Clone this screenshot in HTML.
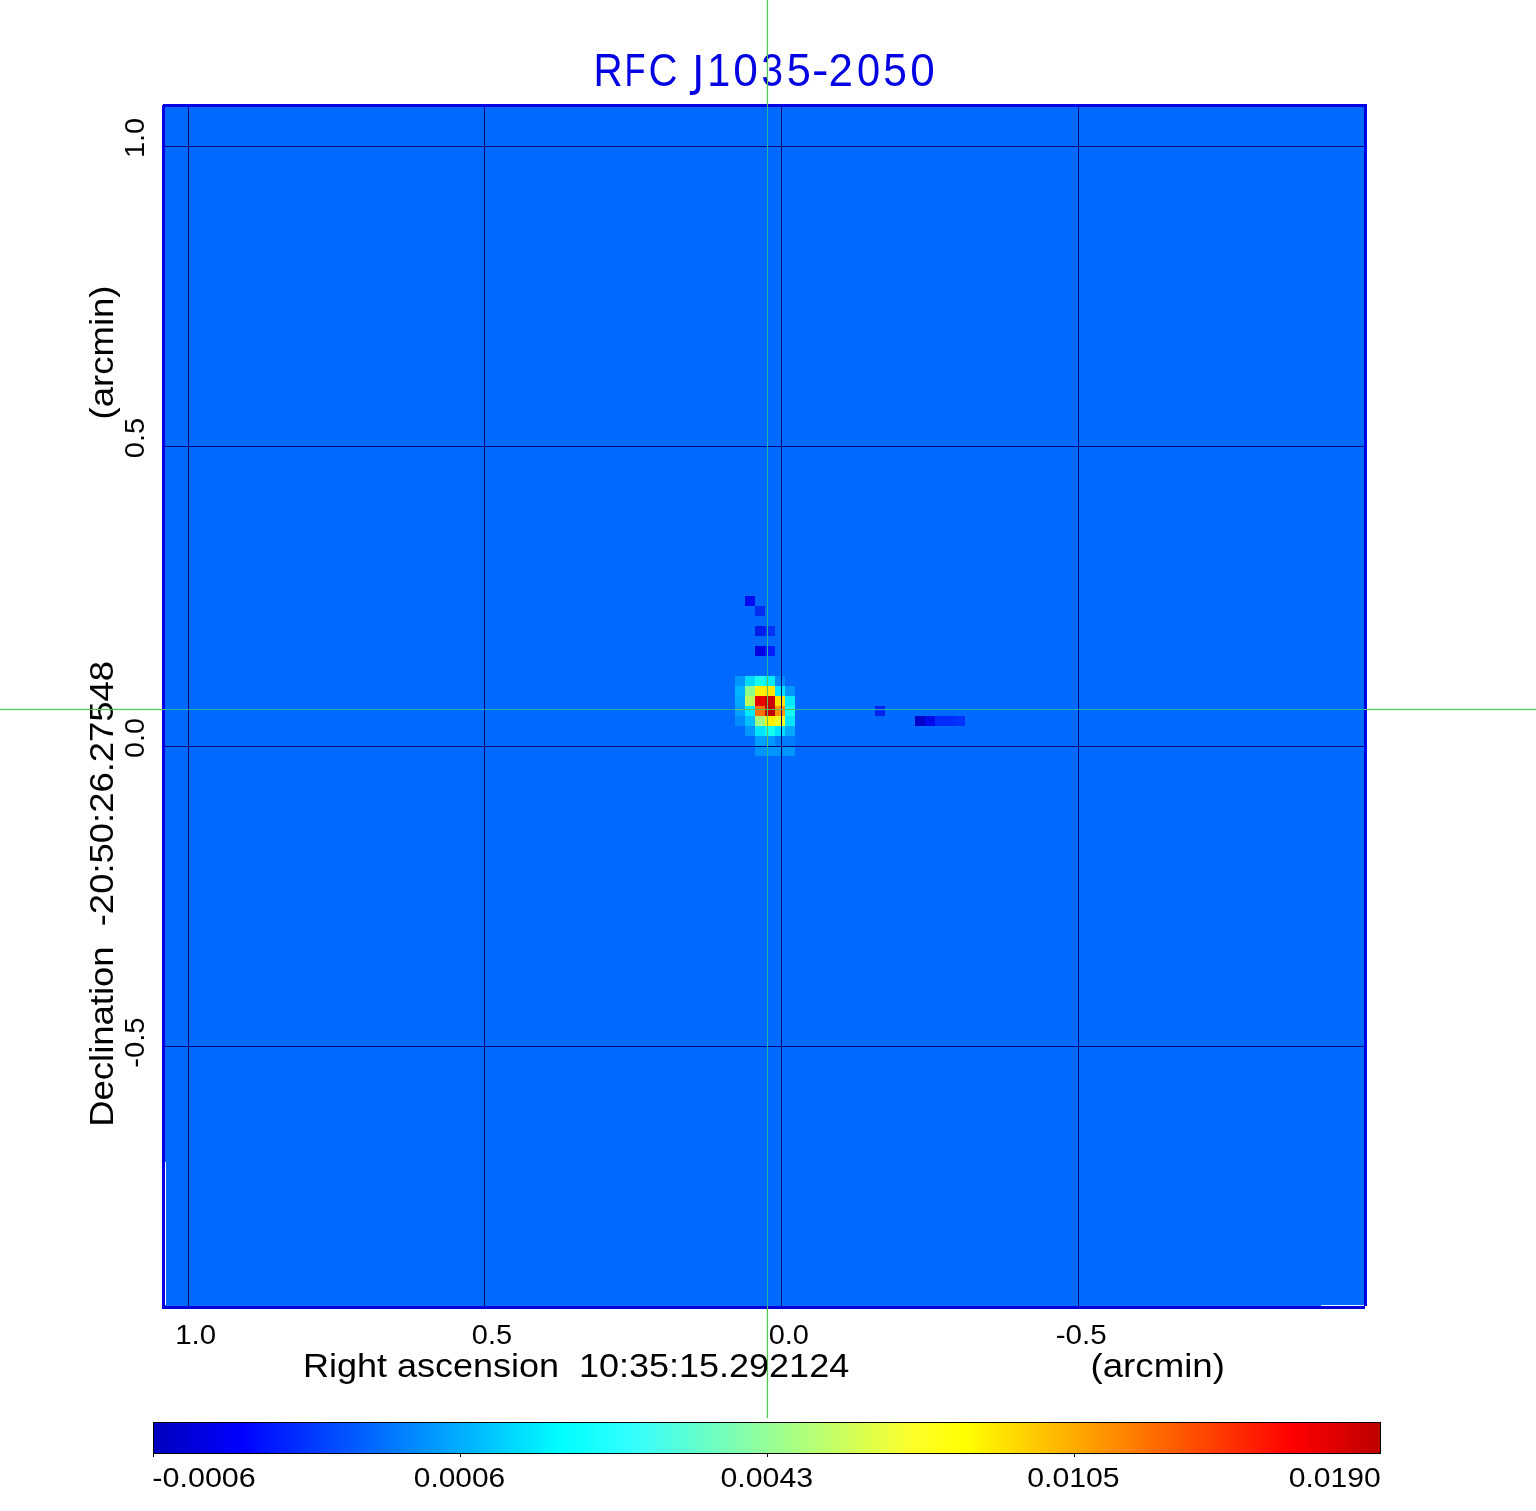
<!DOCTYPE html>
<html><head><meta charset="utf-8"><title>RFC J1035-2050</title>
<style>html,body{margin:0;padding:0;background:#fff;width:1536px;height:1511px;overflow:hidden}svg{display:block}</style>
</head><body><svg width="1536" height="1511" viewBox="0 0 1536 1511" font-family='"Liberation Sans", sans-serif' shape-rendering="crispEdges"><rect x="0" y="0" width="1536" height="1511" fill="#fff"/><rect x="165" y="107" width="1199" height="1199" fill="#0069ff"/><rect x="163" y="104" width="1204" height="3" fill="#0000e6"/><rect x="162" y="105" width="3" height="1204" fill="#0000e6"/><rect x="1364" y="104" width="3" height="1202" fill="#0000e6"/><rect x="162" y="1306" width="1203" height="3" fill="#0000d8"/><rect x="755" y="746" width="40" height="10" fill="#0094ff"/><rect x="735" y="676" width="10" height="10" fill="#0096ff"/><rect x="745" y="676" width="10" height="10" fill="#00dcff"/><rect x="755" y="676" width="10" height="10" fill="#14fff0"/><rect x="765" y="676" width="10" height="10" fill="#00ebff"/><rect x="775" y="676" width="10" height="10" fill="#008cff"/><rect x="735" y="686" width="10" height="10" fill="#00b4ff"/><rect x="745" y="686" width="10" height="10" fill="#8cff8c"/><rect x="755" y="686" width="10" height="10" fill="#fff000"/><rect x="765" y="686" width="10" height="10" fill="#ffe600"/><rect x="775" y="686" width="10" height="10" fill="#00e6ff"/><rect x="785" y="686" width="10" height="10" fill="#0096ff"/><rect x="735" y="696" width="10" height="10" fill="#00aaff"/><rect x="745" y="696" width="10" height="10" fill="#beff5a"/><rect x="755" y="696" width="10" height="10" fill="#eb0000"/><rect x="765" y="696" width="10" height="10" fill="#cd0000"/><rect x="775" y="696" width="10" height="10" fill="#ffe100"/><rect x="785" y="696" width="10" height="10" fill="#00ebff"/><rect x="735" y="706" width="10" height="10" fill="#00a0ff"/><rect x="745" y="706" width="10" height="10" fill="#00ebff"/><rect x="755" y="706" width="10" height="10" fill="#ff6e00"/><rect x="765" y="706" width="10" height="10" fill="#c30000"/><rect x="775" y="706" width="10" height="10" fill="#ff9600"/><rect x="785" y="706" width="10" height="10" fill="#14faf0"/><rect x="735" y="716" width="10" height="10" fill="#008cff"/><rect x="745" y="716" width="10" height="10" fill="#00beff"/><rect x="755" y="716" width="10" height="10" fill="#a0ff82"/><rect x="765" y="716" width="10" height="10" fill="#fff000"/><rect x="775" y="716" width="10" height="10" fill="#f0ff1e"/><rect x="785" y="716" width="10" height="10" fill="#00e6ff"/><rect x="745" y="726" width="10" height="10" fill="#0096ff"/><rect x="755" y="726" width="10" height="10" fill="#00e6ff"/><rect x="765" y="726" width="10" height="10" fill="#14fff0"/><rect x="775" y="726" width="10" height="10" fill="#00e1ff"/><rect x="785" y="726" width="10" height="10" fill="#00aaff"/><rect x="755" y="736" width="10" height="10" fill="#00a0ff"/><rect x="765" y="736" width="10" height="10" fill="#0096ff"/><rect x="775" y="736" width="10" height="10" fill="#007dff"/><rect x="785" y="736" width="10" height="10" fill="#007dff"/><rect x="755" y="646" width="10" height="10" fill="#0000e1"/><rect x="765" y="646" width="10" height="10" fill="#001eff"/><rect x="755" y="626" width="10" height="10" fill="#001eeb"/><rect x="765" y="626" width="10" height="10" fill="#0032f5"/><rect x="755" y="606" width="10" height="10" fill="#002df0"/><rect x="745" y="596" width="10" height="10" fill="#000af0"/><rect x="915" y="716" width="10" height="10" fill="#0000c8"/><rect x="925" y="716" width="10" height="10" fill="#000aeb"/><rect x="935" y="716" width="10" height="10" fill="#002dff"/><rect x="945" y="716" width="10" height="10" fill="#002dff"/><rect x="955" y="716" width="10" height="10" fill="#0032ff"/><rect x="875" y="706" width="10" height="10" fill="#0023f0"/><rect x="165" y="1162" width="1" height="143" fill="#fff"/><rect x="1321" y="1305" width="43" height="1" fill="#e8ffff"/><rect x="188" y="107" width="1" height="1199" fill="#00006e"/><rect x="484" y="107" width="1" height="1199" fill="#00006e"/><rect x="781" y="107" width="1" height="1199" fill="#00006e"/><rect x="1078" y="107" width="1" height="1199" fill="#00006e"/><rect x="165" y="146" width="1199" height="1" fill="#00006e"/><rect x="165" y="446" width="1199" height="1" fill="#00006e"/><rect x="165" y="746" width="1199" height="1" fill="#00006e"/><rect x="165" y="1046" width="1199" height="1" fill="#00006e"/><defs><linearGradient id="jet" x1="0" x2="1" y1="0" y2="0"><stop offset="0.000" stop-color="#0000be"/><stop offset="0.071" stop-color="#0000ff"/><stop offset="0.333" stop-color="#00ffff"/><stop offset="0.390" stop-color="#33ffff"/><stop offset="0.620" stop-color="#ffff28"/><stop offset="0.663" stop-color="#ffff00"/><stop offset="0.929" stop-color="#ff0000"/><stop offset="1.000" stop-color="#be0000"/></linearGradient></defs><rect x="153" y="1422" width="1228" height="32" fill="#000"/><rect x="154" y="1423" width="1226" height="30" fill="url(#jet)"/><rect x="153" y="1454" width="1" height="3" fill="#000"/><rect x="460" y="1454" width="1" height="3" fill="#000"/><rect x="767" y="1454" width="1" height="3" fill="#000"/><rect x="1074" y="1454" width="1" height="3" fill="#000"/><g shape-rendering="auto" style="opacity:0.999"><g font-size="45.5" fill="#0404e2"><text transform="translate(593.56 86.1) scale(0.8901 1)">R</text><text transform="translate(624.55 86.1) scale(0.7560 1)">F</text><text transform="translate(648.39 86.1) scale(0.8826 1)">C</text><path d="M696.2 55.1H700.3V86.6C700.3 92.6 697.2 95.0 692.2 95.0H689.8V91.0H691.9C695.0 91.0 696.2 89.6 696.2 86.2Z"/><text transform="translate(707.20 86.1) scale(0.9091 1)">1</text><text transform="translate(733.37 86.1) scale(0.9733 1)">0</text><text transform="translate(761.54 86.1) scale(0.8477 1)">3</text><text transform="translate(786.87 86.1) scale(0.9524 1)">5</text><text transform="translate(812.12 86.1) scale(1.0901 1)">-</text><text transform="translate(828.50 86.1) scale(0.9651 1)">2</text><text transform="translate(857.05 86.1) scale(0.9150 1)">0</text><text transform="translate(883.20 86.1) scale(0.9341 1)">5</text><text transform="translate(910.18 86.1) scale(0.9688 1)">0</text></g><text transform="translate(175.14 1343.6) scale(1.0558 1)" font-size="27.9" fill="#000" xml:space="preserve">1.0</text><text transform="translate(471.83 1343.6) scale(1.0400 1)" font-size="27.9" fill="#000" xml:space="preserve">0.5</text><text transform="translate(768.73 1343.6) scale(1.0375 1)" font-size="27.9" fill="#000" xml:space="preserve">0.0</text><text transform="translate(1055.71 1343.8) scale(1.0622 1)" font-size="27.9" fill="#000" xml:space="preserve">-0.5</text><text transform="translate(302.92 1376.7) scale(1.1045 1)" font-size="32.6" fill="#000" xml:space="preserve">Right ascension  10:35:15.292124</text><text transform="translate(1090.50 1377.0) scale(1.1250 1)" font-size="32.6" fill="#000" xml:space="preserve">(arcmin)</text><text transform="translate(152.28 1487.4) scale(1.1067 1)" font-size="27.6" fill="#000" xml:space="preserve">-0.0006</text><text transform="translate(413.80 1487.4) scale(1.0833 1)" font-size="27.6" fill="#000" xml:space="preserve">0.0006</text><text transform="translate(720.49 1487.4) scale(1.0979 1)" font-size="27.6" fill="#000" xml:space="preserve">0.0043</text><text transform="translate(1027.19 1487.4) scale(1.0954 1)" font-size="27.6" fill="#000" xml:space="preserve">0.0105</text><text transform="translate(1288.70 1487.4) scale(1.0918 1)" font-size="27.6" fill="#000" xml:space="preserve">0.0190</text><text transform="translate(143.7 158.12) rotate(-90) scale(1.0336 1)" font-size="27.9" fill="#000" xml:space="preserve">1.0</text><text transform="translate(143.7 458.17) rotate(-90) scale(1.0373 1)" font-size="27.9" fill="#000" xml:space="preserve">0.5</text><text transform="translate(143.7 757.96) rotate(-90) scale(1.0295 1)" font-size="27.9" fill="#000" xml:space="preserve">0.0</text><text transform="translate(143.7 1067.87) rotate(-90) scale(1.0514 1)" font-size="27.9" fill="#000" xml:space="preserve">-0.5</text><text transform="translate(112.8 1126.71) rotate(-90) scale(1.1176 1)" font-size="32.6" fill="#000" xml:space="preserve">Declination  -20:50:26.27548</text><text transform="translate(112.8 419.39) rotate(-90) scale(1.1207 1)" font-size="32.6" fill="#000" xml:space="preserve">(arcmin)</text></g><rect x="766" y="0" width="1" height="104" fill="#cdfccd" style="mix-blend-mode:multiply"/><rect x="768" y="0" width="1" height="104" fill="#e8ffe8" style="mix-blend-mode:multiply"/><rect x="766" y="1309" width="1" height="109" fill="#cdfccd" style="mix-blend-mode:multiply"/><rect x="768" y="1309" width="1" height="109" fill="#e8ffe8" style="mix-blend-mode:multiply"/><rect x="0" y="708" width="162" height="1" fill="#d8fce0" style="mix-blend-mode:multiply"/><rect x="0" y="710" width="162" height="1" fill="#e4ffdc" style="mix-blend-mode:multiply"/><rect x="1367" y="708" width="169" height="1" fill="#d8fce0" style="mix-blend-mode:multiply"/><rect x="1367" y="710" width="169" height="1" fill="#e4ffdc" style="mix-blend-mode:multiply"/><rect x="767" y="0" width="1" height="1418" fill="#5cc05c"/><rect x="767" y="107" width="1" height="569" fill="#20b4a8"/><rect x="767" y="746" width="1" height="560" fill="#20b4a8"/><rect x="0" y="709" width="1536" height="1" fill="#5cc05c"/><rect x="165" y="709" width="570" height="1" fill="#20b4a8"/><rect x="795" y="709" width="569" height="1" fill="#20b4a8"/></svg></body></html>
